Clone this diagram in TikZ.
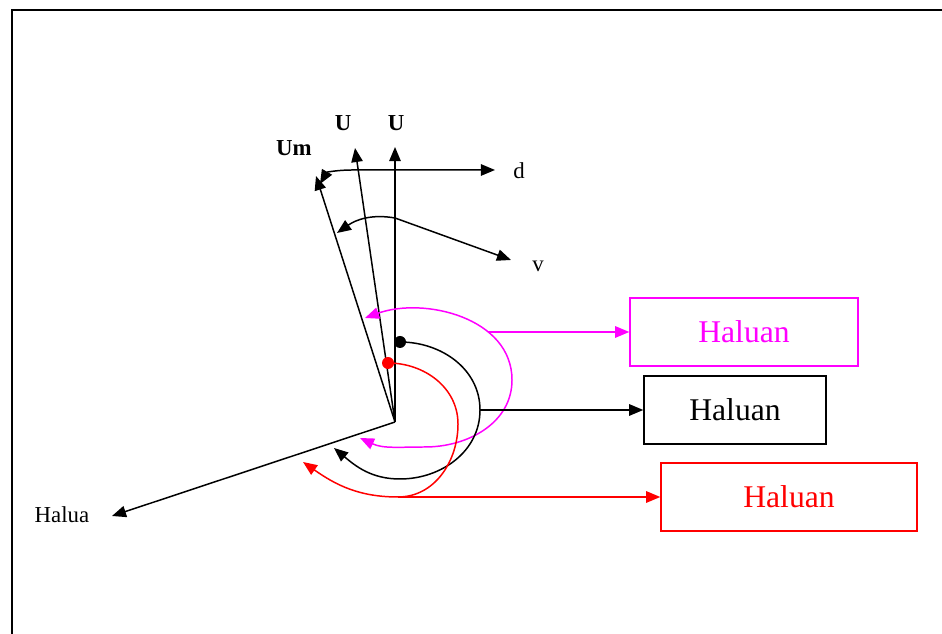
\documentclass[tikz,border=0pt]{standalone}
\usepackage{fontspec}
\setmainfont{Liberation Serif}
\usetikzlibrary{arrows.meta}
\definecolor{hmag}{RGB}{255,0,255}
\definecolor{hred}{RGB}{255,0,0}

\begin{document}
\begin{tikzpicture}[x=0.02cm,y=0.02cm,line width=0.85pt,
  >={Triangle[length=8pt,width=6.5pt]},
  lbl/.style={font=\fontsize{13}{15}\selectfont},
  hbox/.style={draw, rectangle, minimum height=1.36cm, font=\fontsize{18}{22}\selectfont}]
\useasboundingbox (0,0) rectangle (942,634);
\draw[line width=1.2pt] (942,624) -- (12,624) -- (12,0);

\coordinate (O) at (395,212);
\coordinate (U1) at (395,487);
\coordinate (U2) at (355,486);
\coordinate (Um) at (316,458);
\coordinate (H) at (112,118);

\node[lbl] (lU1) at (396,511) {\bfseries U};
\node[lbl] (lU2) at (343,511) {\bfseries U};
\node[lbl] (lUm) at (294,486) {\bfseries Um};
\node[lbl] (ld) at (519,463) {d};
\node[lbl] (lv) at (538,368) {v};
\node[lbl] (lH) at (62,119) {Halua};

\draw[->] (O) -- (U1);
\draw[->] (O) -- (U2);
\draw[->] (O) -- (Um);
\draw[->] (O) -- (H);

\coordinate (dtip) at (495,464);
\coordinate (dknee) at (352,464);
\coordinate (dUm) at (320,450);
\draw[<->] (dtip) -- (dknee) to[out=180,in=60] (dUm);

\coordinate (vtip) at (511,374);
\coordinate (vknee) at (395,416);
\coordinate (vUm) at (337,401);
\draw[<->] (vtip) -- (vknee) to[out=170,in=35] (vUm);

\node[hbox, draw=hmag, text=hmag, minimum width=4.56cm] (magbox) at (744,302) {Haluan};
\node[hbox, minimum width=3.64cm] (blkbox) at (735,224) {Haluan};
\node[hbox, draw=hred, text=hred, minimum width=5.12cm] (redbox) at (789,137) {Haluan};

% magenta turn
\coordinate (mA) at (365,316);
\coordinate (mR) at (512,254);
\coordinate (mB) at (425,187);
\coordinate (mE) at (360,196);
\coordinate (mOut) at (488,302);
\draw[<->,hmag] (mA) to[out=20,in=90] (mR) to[out=-90,in=0] (mB) to[out=180,in=-25] (mE);
\draw[->,hmag] (mOut) -- (magbox.west);

% black turn
\coordinate (bA) at (400,292);
\coordinate (bR) at (480,224);
\coordinate (bB) at (400,155);
\coordinate (bE) at (334,186);
\draw[->] (bA) to[out=0,in=90] (bR) to[out=-90,in=0] (bB) to[out=180,in=-40] (bE);
\fill (bA) circle (6);
\draw[->] (bR) -- (blkbox.west);

% red turn
\coordinate (rA) at (388,271);
\coordinate (rR) at (458,210);
\coordinate (rB) at (398,137);
\coordinate (rE) at (303,172);
\draw[->,hred] (rA) to[out=0,in=90] (rR) to[out=-90,in=0] (rB) to[out=180,in=-35] (rE);
\fill[hred] (rA) circle (6);
\draw[->,hred] (rB) -- (redbox.west);
\end{tikzpicture}
\end{document}
